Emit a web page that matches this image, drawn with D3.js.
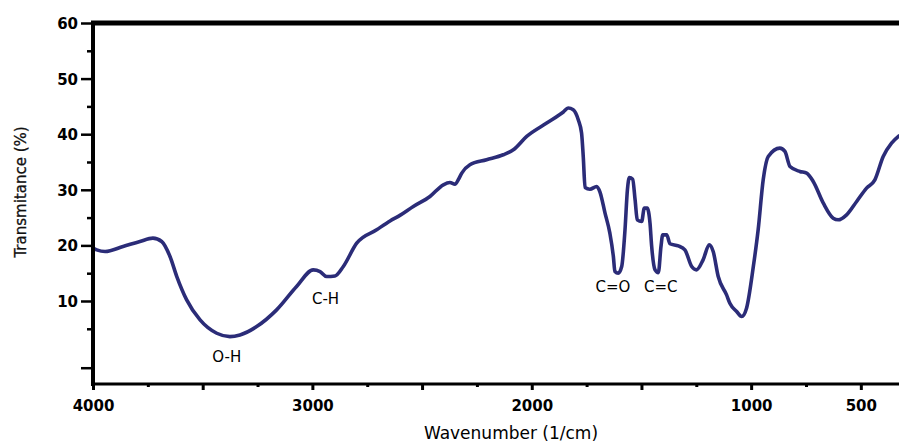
<!DOCTYPE html>
<html><head><meta charset="utf-8">
<script src="https://cdnjs.cloudflare.com/ajax/libs/d3/7.8.5/d3.min.js"></script>
<style>
html,body{margin:0;padding:0;background:#fff;}
svg{display:block;}
</style></head>
<body><svg id="c" width="899" height="444"></svg>
<script>
// ---- data ----
const wavenumber = [4000,3983,3945,3863,3786,3727,3687,3649,3618,3573,3512,3436,3376,3330,3254,3163,3072,2996,2965,2935,2897,2859,2798,2707,2646,2601,2540,2464,2403,2373,2350,2335,2319,2282,2206,2130,2084,2023,1932,1856,1834,1811,1788,1773,1765,1757,1735,1704,1689,1666,1644,1628,1621,1606,1590,1575,1564,1555,1540,1529,1519,1499,1487,1474,1461,1454,1438,1423,1411,1403,1385,1370,1332,1302,1271,1249,1219,1191,1173,1150,1112,1097,1066,1043,1021,990,968,945,922,869,846,823,778,747,717,671,626,603,565,519,474,436,398,360,326];
const transmittance = [19.5,19.2,18.9,19.8,20.7,21.3,20.7,18.0,14.4,10.2,6.6,4.2,3.6,3.9,5.4,8.4,12.6,15.6,15.3,14.4,14.5,16.2,20.4,22.8,24.4,25.4,27.0,28.8,30.9,31.3,31.0,31.8,33.0,34.5,35.4,36.3,37.2,39.6,42.0,44.0,44.7,44.4,42.6,40.2,35.8,30.4,30.1,30.6,29.6,25.8,22.2,18.0,15.3,15.0,16.2,22.8,30.0,32.2,31.9,28.2,24.6,24.3,26.7,26.7,24.0,20.1,15.6,15.1,19.8,21.9,21.9,20.3,19.9,19.2,16.2,15.6,17.4,20.1,18.9,14.4,11.1,9.6,8.1,7.2,8.7,16.2,22.8,31.8,36.0,37.5,36.9,34.2,33.3,33.0,31.5,27.6,24.9,24.6,25.5,27.9,30.3,31.8,36.0,38.4,39.7];
const xMajorTicks = [4000,3500,3000,2500,2000,1500,1000,500];
const xMinorTicks = [3750,3250,2750,2250,1750,1250,750];
const xTickLabels = [4000,3000,2000,1000,500];
const yMajorTicks = [60,50,40,30,20,10,-2];
const yMinorTicks = [55,45,35,25,15,5];
const yTickLabels = [60,50,40,30,20,10];
const bandLabels = ["O-H","C-H","C=O","C=C"];
const bandWavenumber = [3390,2940,1630,1412];
const bandValue = [-1.0,9.5,11.7,11.7];

// ---- layout ----
const svg = d3.select("#c");
const L = 93, R = 899, T = 23, B = 384;
const x = d3.scaleLinear().domain([4000, 326]).range([L, R]);
const y = d3.scaleLinear().domain([-4.93, 60]).range([B, T]);
const font = "'DejaVu Sans', Verdana, sans-serif";

// clip
svg.append("defs").append("clipPath").attr("id","clip")
  .append("rect").attr("x",L).attr("y",T).attr("width",R-L).attr("height",B-T);

// spectrum line
const pts = wavenumber.map((w,i)=>[w, transmittance[i]]);
svg.append("path").datum(pts)
  .attr("clip-path","url(#clip)")
  .attr("fill","none").attr("stroke","#2b2c78").attr("stroke-width",3.6)
  .attr("stroke-linejoin","round").attr("stroke-linecap","round")
  .attr("d", d3.line().x(d=>x(d[0])).y(d=>y(d[1])).curve(d3.curveMonotoneX));

// x axis
const gx = svg.append("g").attr("transform",`translate(0,${B})`);
gx.call(d3.axisBottom(x).tickValues(xMajorTicks).tickSize(6).tickSizeOuter(0)
  .tickFormat(d => xTickLabels.includes(d) ? String(d) : ""));
gx.select(".domain").remove();
gx.selectAll(".tick line").attr("stroke","#000").attr("stroke-width",3);
gx.selectAll(".tick text").attr("font-family",font).attr("font-weight","bold")
  .attr("font-size",15).attr("fill","#000").attr("dy",null).attr("y",27);
const gxm = svg.append("g").attr("transform",`translate(0,${B})`);
gxm.call(d3.axisBottom(x).tickValues(xMinorTicks).tickSize(3).tickSizeOuter(0).tickFormat(""));
gxm.select(".domain").remove();
gxm.selectAll(".tick line").attr("stroke","#000").attr("stroke-width",3);

// y axis
const gy = svg.append("g").attr("transform",`translate(${L},0)`);
gy.call(d3.axisLeft(y).tickValues(yMajorTicks).tickSize(12).tickSizeOuter(0)
  .tickFormat(d => yTickLabels.includes(d) ? String(d) : ""));
gy.select(".domain").remove();
gy.selectAll(".tick line").attr("stroke","#000").attr("stroke-width",2.5);
gy.selectAll(".tick text").attr("font-family",font).attr("font-weight","bold")
  .attr("font-size",15).attr("fill","#000").attr("x",-15).attr("dy","0.36em");
const gym = svg.append("g").attr("transform",`translate(${L},0)`);
gym.call(d3.axisLeft(y).tickValues(yMinorTicks).tickSize(6).tickSizeOuter(0).tickFormat(""));
gym.select(".domain").remove();
gym.selectAll(".tick line").attr("stroke","#000").attr("stroke-width",2.5);

// axis lines
svg.append("line").attr("x1",L).attr("x2",R).attr("y1",B).attr("y2",B)
  .attr("stroke","#000").attr("stroke-width",3);
svg.append("line").attr("x1",L).attr("x2",L).attr("y1",T-2).attr("y2",B+2)
  .attr("stroke","#000").attr("stroke-width",4);
svg.append("line").attr("x1",L-2).attr("x2",R).attr("y1",T).attr("y2",T)
  .attr("stroke","#000").attr("stroke-width",5);

// band labels
svg.selectAll("text.band").data(bandLabels).enter().append("text")
  .attr("class","band")
  .attr("x",(d,i)=>x(bandWavenumber[i])).attr("y",(d,i)=>y(bandValue[i]))
  .attr("text-anchor","middle").attr("font-family",font).attr("font-size",15)
  .attr("fill","#000").text(d=>d);

// axis titles
svg.append("text").attr("x",511).attr("y",439).attr("text-anchor","middle")
  .attr("font-family",font).attr("font-size",17).attr("fill","#000")
  .text("Wavenumber (1/cm)");
svg.append("text").attr("transform","translate(26,192) rotate(-90)")
  .attr("text-anchor","middle").attr("font-family",font).attr("font-size",15)
  .attr("fill","#111").attr("stroke","#111").attr("stroke-width",0.3)
  .text("Transmitance (%)");
</script></body></html>
